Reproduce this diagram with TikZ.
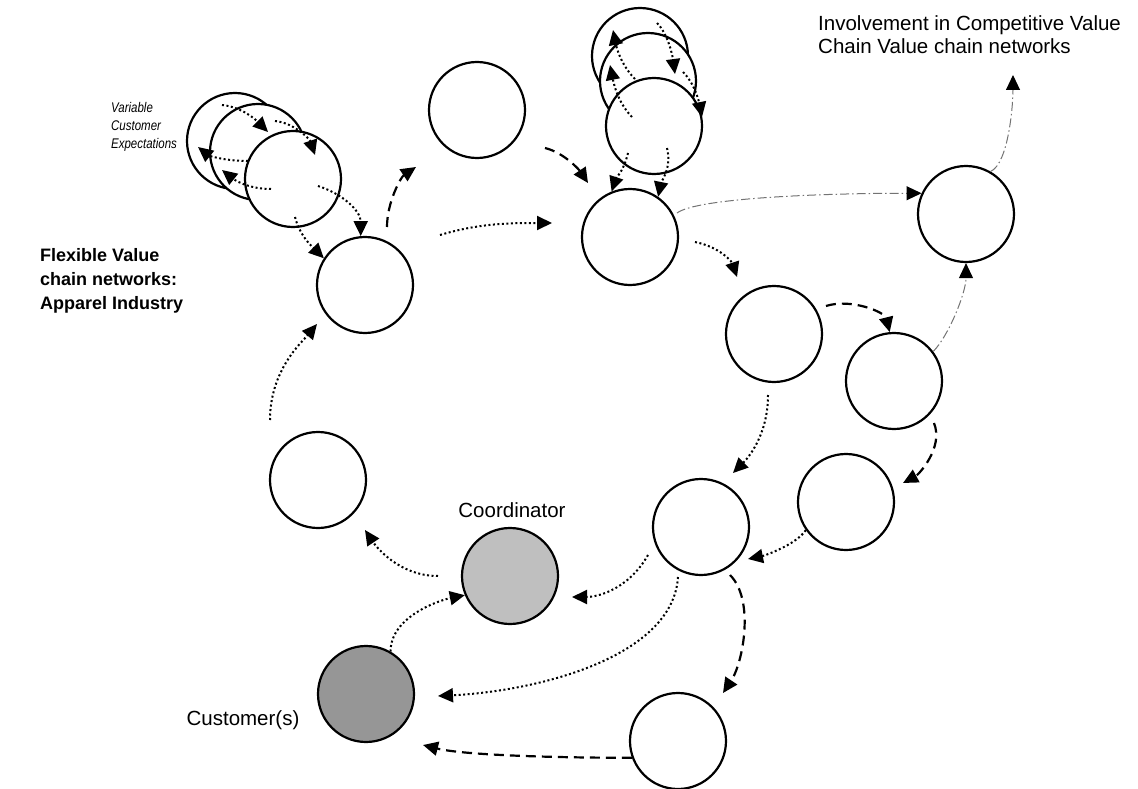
\documentclass[tikz,border=0pt]{standalone}
\usepackage{fontspec}
\setmainfont{Liberation Sans}
\newfontfamily\narrowfont{Liberation Sans}[FakeStretch=0.82]
\usetikzlibrary{arrows.meta}

\begin{document}
\begin{tikzpicture}[x=1pt,y=-1pt,
  unit/.style={circle, draw, line width=2.2pt, minimum size=96pt, inner sep=0pt, fill=white},
  coordunit/.style={unit, fill=black!25},
  custunit/.style={unit, fill=black!41},
  tip/.style={-{Triangle[length=15pt,width=14pt,color=black]}},
  dotflow/.style={tip, line width=2pt, dash pattern=on 2pt off 2.5pt},
  dashflow/.style={tip, line width=2.2pt, dash pattern=on 10pt off 6pt},
  linkflow/.style={tip, line width=1pt, draw=black!55, dash pattern=on 9pt off 3pt on 1.5pt off 3pt},
  label/.style={inner sep=0pt, font=\fontsize{20.5}{23.5}\selectfont},
]
\useasboundingbox (0,0) rectangle (1138,789);

% ---- stacked expectation units (left) ----
\node[unit] (a1) at (235,141) {};
\node[unit] (a2) at (258,152) {};
\node[unit] (a3) at (293,179) {};
% ---- stacked units (top middle) ----
\node[unit] (d1) at (640,56) {};
\node[unit] (d2) at (648,81) {};
\node[unit] (d3) at (654,126) {};

% ---- chain units ----
\node[unit] (b) at (365,285) {};
\node[unit] (c) at (477,110) {};
\node[unit] (d) at (630,237) {};
\node[unit] (e) at (966,214) {};
\node[unit] (f) at (774,334) {};
\node[unit] (g) at (894,381) {};
\node[unit] (h) at (846,502) {};
\node[unit] (i) at (701,527) {};
\node[unit] (l) at (678,741) {};
\node[unit] (m) at (318,480) {};
\node[coordunit] (coord) at (510,576) {};
\node[custunit] (cust) at (366,694) {};

% ---- labels ----
\node[label, anchor=north west, align=left] (inv) at (818,15)
  {Involvement in Competitive Value\\Chain Value chain networks};
\node[label] (coordlbl) at (512,510) {Coordinator};
\node[label] (custlbl) at (243,720) {Customer(s)};
\node[inner sep=0pt, anchor=west, align=left,
      font=\fontsize{18}{24}\selectfont\bfseries] (title) at (40,281)
  {Flexible Value\\chain networks:\\Apparel Industry};
\node[inner sep=0pt, anchor=north west, align=left,
      font=\fontsize{14}{18}\selectfont\narrowfont\itshape] (expect) at (111,102)
  {Variable\\Customer\\Expectations};

% ---- free ends ----
\coordinate (a1s) at (222,105);  \coordinate (a1t) at (268,132);
\coordinate (a2s) at (275,121);  \coordinate (a2t) at (315,155);
\coordinate (a3s) at (248,161);  \coordinate (a3t) at (198,147);
\coordinate (a4s) at (271,189);  \coordinate (a4t) at (222,170);
\coordinate (a5s) at (318,186);
\coordinate (a6s) at (295,217);
\coordinate (bs)  at (387,227);  \coordinate (bt)  at (416,167);
\coordinate (b2s) at (440,235);  \coordinate (b2t) at (552,223);
\coordinate (cs)  at (545,148);  \coordinate (ct)  at (588,183);
\coordinate (d1s) at (635,79);   \coordinate (d1t) at (613,30);
\coordinate (d2s) at (632,117);  \coordinate (d2t) at (610,65);
\coordinate (d3s) at (657,23);   \coordinate (d3t) at (675,74);
\coordinate (d4s) at (683,72);   \coordinate (d4t) at (702,117);
\coordinate (d5s) at (628,153);
\coordinate (d6s) at (667,148);
\coordinate (ds)  at (677,213);
\coordinate (d7s) at (695,242);  \coordinate (d7t) at (737,277);
\coordinate (fs)  at (826,306);
\coordinate (et)  at (1013,75);
\coordinate (f2s) at (768,395);  \coordinate (f2t) at (733,473);
\coordinate (gs)  at (934,423);  \coordinate (gt)  at (903,483);
\coordinate (ht)  at (748,559);
\coordinate (i1s) at (648,555);  \coordinate (i1t) at (572,597);
\coordinate (i2s) at (678,577);  \coordinate (i2t) at (438,696);
\coordinate (i3s) at (730,575);  \coordinate (i3t) at (723,693);
\coordinate (lt)  at (423,745);
\coordinate (cs2) at (438,576);  \coordinate (mt)  at (365,530);
\coordinate (ms)  at (270,420);  \coordinate (bt2) at (317,324);

% ---- flows in the left stack ----
\draw[dotflow] (a1s) .. controls +(20,2) and +(-12,-12) .. (a1t);
\draw[dotflow] (a2s) .. controls +(20,2) and +(-5,-15) .. (a2t);
\draw[dotflow] (a3s) .. controls +(-25,0) and +(10,8) .. (a3t);
\draw[dotflow] (a4s) .. controls +(-25,0) and +(10,8) .. (a4t);
\draw[dotflow] (a5s) .. controls +(25,8) and +(0,-25) .. (b.95);
\draw[dotflow] (a6s) .. controls +(5,20) and +(-10,-10) .. (b.147);
\draw[dashflow] (bs) .. controls +(0,-25) and +(-15,10) .. (bt);
\draw[dotflow] (b2s) .. controls +(40,-12) and +(-40,0) .. (b2t);
\draw[dashflow] (cs) .. controls +(20,5) and +(-8,-12) .. (ct);

% ---- flows in the upper stack ----
\draw[dotflow] (d1s) .. controls +(-15,-15) and +(3,15) .. (d1t);
\draw[dotflow] (d2s) .. controls +(-15,-15) and +(3,15) .. (d2t);
\draw[dotflow] (d3s) .. controls +(12,12) and +(-2,-15) .. (d3t);
\draw[dotflow] (d4s) .. controls +(12,12) and +(-3,-15) .. (d4t);
\draw[dotflow] (d5s) .. controls +(-5,20) and +(5,-15) .. (d.112);
\draw[dotflow] (d6s) .. controls +(5,20) and +(3,-15) .. (d.55);

% ---- competitive value links ----
\draw[linkflow] (ds) .. controls +(20,-15) and +(-100,0) .. (e.155);
\draw[linkflow] (g.37) .. controls +(15,-15) and +(0,30) .. (e.south);
\draw[linkflow] (e.60) .. controls +(18,-8) and +(0,30) .. (et);

% ---- chain flows ----
\draw[dotflow] (d7s) .. controls +(25,5) and +(-5,-15) .. (d7t);
\draw[dashflow] (fs) .. controls +(25,-8) and +(-5,-20) .. (g.95);
\draw[dotflow] (f2s) .. controls +(0,40) and +(15,-15) .. (f2t);
\draw[dashflow] (gs) .. controls +(10,25) and +(15,-8) .. (gt);
\draw[dotflow] (h.215) .. controls +(-10,15) and +(15,-3) .. (ht);
\draw[dotflow] (i1s) .. controls +(-20,35) and +(25,0) .. (i1t);
\draw[dotflow] (i2s) .. controls +(-5,80) and +(100,-5) .. (i2t);
\draw[dashflow] (i3s) .. controls +(25,25) and +(20,-30) .. (i3t);
\draw[dashflow] (l.200) .. controls +(-80,0) and +(40,10) .. (lt);
\draw[dotflow] (cust.60) .. controls +(0,-35) and +(-25,5) .. (coord.203);
\draw[dotflow] (cs2) .. controls +(-40,0) and +(10,15) .. (mt);
\draw[dotflow] (ms) .. controls +(0,-50) and +(-15,18) .. (bt2);
\end{tikzpicture}
\end{document}
